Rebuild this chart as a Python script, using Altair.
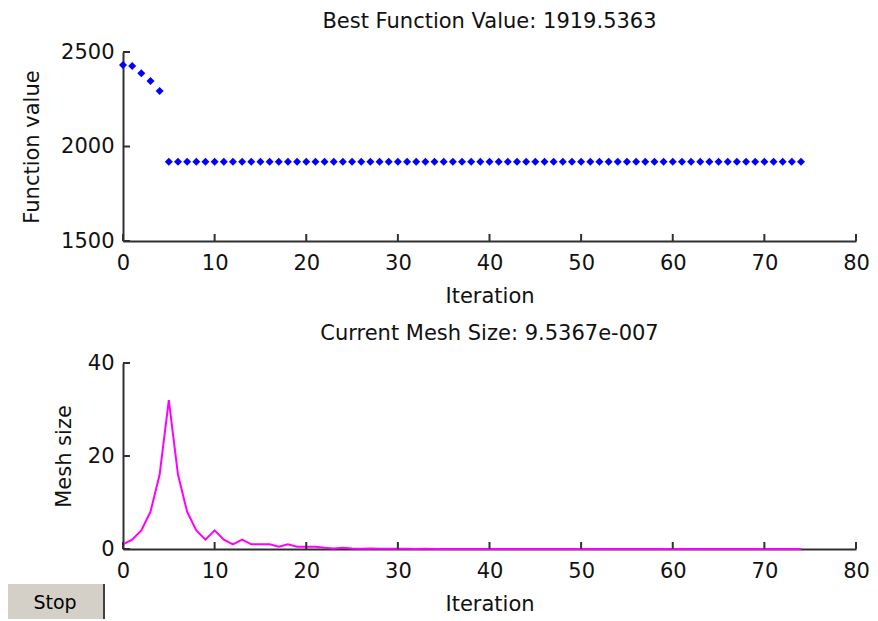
import altair as alt
import pandas as pd

# ---- data ----
iterations = list(range(75))

best_values = [
    2431, 2426, 2387, 2347, 2294,
    1919.5363, 1919.5363, 1919.5363, 1919.5363, 1919.5363,
    1919.5363, 1919.5363, 1919.5363, 1919.5363, 1919.5363,
    1919.5363, 1919.5363, 1919.5363, 1919.5363, 1919.5363,
    1919.5363, 1919.5363, 1919.5363, 1919.5363, 1919.5363,
    1919.5363, 1919.5363, 1919.5363, 1919.5363, 1919.5363,
    1919.5363, 1919.5363, 1919.5363, 1919.5363, 1919.5363,
    1919.5363, 1919.5363, 1919.5363, 1919.5363, 1919.5363,
    1919.5363, 1919.5363, 1919.5363, 1919.5363, 1919.5363,
    1919.5363, 1919.5363, 1919.5363, 1919.5363, 1919.5363,
    1919.5363, 1919.5363, 1919.5363, 1919.5363, 1919.5363,
    1919.5363, 1919.5363, 1919.5363, 1919.5363, 1919.5363,
    1919.5363, 1919.5363, 1919.5363, 1919.5363, 1919.5363,
    1919.5363, 1919.5363, 1919.5363, 1919.5363, 1919.5363,
    1919.5363, 1919.5363, 1919.5363, 1919.5363, 1919.5363,
]

mesh_values = [
    1, 2, 4, 8, 16, 32, 16, 8, 4, 2,
    4, 2, 1, 2, 1, 1, 1, 0.5, 1, 0.5,
    0.5, 0.5, 0.25, 0.125, 0.25, 0.125, 0.0625, 0.125, 0.0625, 0.03125,
    0.0625, 0.03125, 0.015625, 0.03125, 0.015625, 0.0078, 0.0156, 0.0078, 0.0039, 0.0078,
    0.0039, 0.002, 0.0039, 0.002, 0.001, 0.002, 0.001, 0.0005, 0.001, 0.0005,
    0.00024, 0.0005, 0.00024, 0.00012, 0.00024, 0.00012, 0.00006, 0.00012, 0.00006, 0.00003,
    0.00006, 0.00003, 0.000015, 0.00003, 0.000015, 0.0000076, 0.000015, 0.0000076, 0.0000038, 0.0000076,
    0.0000038, 0.0000019, 0.0000038, 0.0000019, 0.00000095367,
]

x_ticks = [0, 10, 20, 30, 40, 50, 60, 70, 80]
top_y_ticks = [1500, 2000, 2500]
bottom_y_ticks = [0, 20, 40]

top_title = "Best Function Value: 1919.5363"
bottom_title = "Current Mesh Size: 9.5367e-007"
button_label = ["Stop"]

# ---- styling ----
FONT = "DejaVu Sans"
AXIS_COLOR = "#303030"
W = 733
H_TOP = 189
H_BOT = 186
TICK_LEN = 7


def x_axis():
    return alt.Axis(values=x_ticks, title="Iteration", ticks=False, grid=False,
                    labelFlush=False, labelOverlap=False, labelPadding=11,
                    titlePadding=12, format="d")


def y_axis(ticks, title, pad):
    return alt.Axis(values=ticks, title=title, ticks=False, grid=False,
                    labelFlush=False, labelOverlap=False, labelPadding=9,
                    titlePadding=pad, format="d")


# ---- top panel ----
top_df = pd.DataFrame({"iteration": iterations, "value": best_values})
x_scale = alt.Scale(domain=[0, 80], nice=False, zero=False)
top_y_scale = alt.Scale(domain=[1500, 2500], nice=False, zero=False)

top_points = alt.Chart(top_df).mark_point(
    shape="diamond", filled=True, size=64, color="#0000ff", opacity=1
).encode(
    x=alt.X("iteration:Q", scale=x_scale, axis=x_axis()),
    y=alt.Y("value:Q", scale=top_y_scale, axis=y_axis(top_y_ticks, "Function value", 18)),
)

top_xt = alt.Chart(pd.DataFrame({"iteration": x_ticks})).mark_rule(
    color=AXIS_COLOR, strokeWidth=2
).encode(x="iteration:Q", y=alt.value(H_TOP), y2=alt.value(H_TOP - TICK_LEN))

top_yt = alt.Chart(pd.DataFrame({"value": top_y_ticks})).mark_rule(
    color=AXIS_COLOR, strokeWidth=2
).encode(y="value:Q", x=alt.value(0), x2=alt.value(TICK_LEN))

top = alt.layer(top_points, top_xt, top_yt).properties(
    width=W, height=H_TOP,
    title=alt.TitleParams(top_title, offset=9),
)

# ---- bottom panel ----
bot_df = pd.DataFrame({"iteration": iterations, "mesh": mesh_values})
bot_y_scale = alt.Scale(domain=[0, 40], nice=False, zero=False)

bot_line = alt.Chart(bot_df).mark_line(color="#ff00ff", strokeWidth=2).encode(
    x=alt.X("iteration:Q", scale=x_scale, axis=x_axis()),
    y=alt.Y("mesh:Q", scale=bot_y_scale, axis=y_axis(bottom_y_ticks, "Mesh size", 13)),
)

bot_xt = alt.Chart(pd.DataFrame({"iteration": x_ticks})).mark_rule(
    color=AXIS_COLOR, strokeWidth=2
).encode(x="iteration:Q", y=alt.value(H_BOT), y2=alt.value(H_BOT - TICK_LEN))

bot_yt = alt.Chart(pd.DataFrame({"mesh": bottom_y_ticks})).mark_rule(
    color=AXIS_COLOR, strokeWidth=2
).encode(y="mesh:Q", x=alt.value(0), x2=alt.value(TICK_LEN))

btn_df = pd.DataFrame({"label": button_label})
btn_rect = alt.Chart(btn_df).mark_rect(color="#d4d0c8").encode(
    x=alt.value(-115), x2=alt.value(-19), y=alt.value(221), y2=alt.value(256)
)
btn_edge = alt.Chart(btn_df).mark_rule(color="#404040", strokeWidth=2).encode(
    x=alt.value(-19), y=alt.value(221), y2=alt.value(256)
)
btn_text = alt.Chart(btn_df).mark_text(
    font=FONT, fontSize=19, color="#000000", align="center", baseline="middle"
).encode(x=alt.value(-68), y=alt.value(240), text="label:N")

bottom = alt.layer(bot_line, bot_xt, bot_yt, btn_rect, btn_edge, btn_text).properties(
    width=W, height=H_BOT,
    title=alt.TitleParams(bottom_title, offset=8),
)

chart = alt.vconcat(top, bottom, spacing=17).properties(
    padding={"left": 0, "top": 3, "right": 0, "bottom": 0},
    background="white",
).configure_view(stroke=None).configure_axis(
    labelFont=FONT, titleFont=FONT, labelFontSize=21, titleFontSize=21,
    labelColor="#111111", titleColor="#111111", titleFontWeight="normal",
    domainColor=AXIS_COLOR, domainWidth=2,
).configure_title(
    font=FONT, fontSize=21, fontWeight="normal", color="#111111", anchor="middle"
)

chart.save("out.html", embed_options={"renderer": "svg", "actions": False})
